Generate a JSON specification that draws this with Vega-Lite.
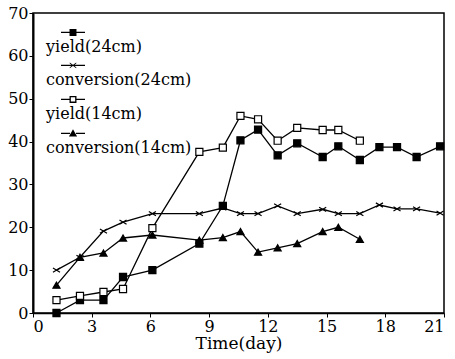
{
  "$schema": "https://vega.github.io/schema/vega-lite/v6.json",
  "width": 411,
  "height": 300,
  "autosize": "none",
  "padding": {"left": 33, "top": 13, "right": 11, "bottom": 46},
  "background": "white",
  "config": {
    "view": {"stroke": "black", "strokeWidth": 1.5},
    "font": "DejaVu Serif",
    "axis": {
      "grid": false,
      "domainColor": "black",
      "domainWidth": 1.5,
      "tickColor": "black",
      "tickSize": 4,
      "tickWidth": 1,
      "labelFont": "DejaVu Serif",
      "labelFontSize": 16,
      "labelColor": "black",
      "titleFont": "DejaVu Serif",
      "titleFontSize": 17,
      "titleFontWeight": "normal",
      "titleColor": "black"
    }
  },
  "data": {
    "values": [
      {"series": "yield(24cm)", "day": 1.2, "value": 0},
      {"series": "yield(24cm)", "day": 2.4, "value": 3},
      {"series": "yield(24cm)", "day": 3.6, "value": 3},
      {"series": "yield(24cm)", "day": 4.6, "value": 8.4},
      {"series": "yield(24cm)", "day": 6.1, "value": 10},
      {"series": "yield(24cm)", "day": 8.5, "value": 16.2},
      {"series": "yield(24cm)", "day": 9.7, "value": 25},
      {"series": "yield(24cm)", "day": 10.6, "value": 40.3},
      {"series": "yield(24cm)", "day": 11.5, "value": 42.8},
      {"series": "yield(24cm)", "day": 12.5, "value": 36.8},
      {"series": "yield(24cm)", "day": 13.5, "value": 39.6},
      {"series": "yield(24cm)", "day": 14.8, "value": 36.4},
      {"series": "yield(24cm)", "day": 15.6, "value": 38.9},
      {"series": "yield(24cm)", "day": 16.7, "value": 35.7},
      {"series": "yield(24cm)", "day": 17.7, "value": 38.7},
      {"series": "yield(24cm)", "day": 18.6, "value": 38.7},
      {"series": "yield(24cm)", "day": 19.6, "value": 36.4},
      {"series": "yield(24cm)", "day": 20.8, "value": 38.9},
      {"series": "conversion(24cm)", "day": 1.2, "value": 10},
      {"series": "conversion(24cm)", "day": 2.4, "value": 13},
      {"series": "conversion(24cm)", "day": 3.6, "value": 19.1},
      {"series": "conversion(24cm)", "day": 4.6, "value": 21.2},
      {"series": "conversion(24cm)", "day": 6.1, "value": 23.2},
      {"series": "conversion(24cm)", "day": 8.5, "value": 23.2},
      {"series": "conversion(24cm)", "day": 9.7, "value": 24.5},
      {"series": "conversion(24cm)", "day": 10.6, "value": 23.2},
      {"series": "conversion(24cm)", "day": 11.5, "value": 23.2},
      {"series": "conversion(24cm)", "day": 12.5, "value": 25},
      {"series": "conversion(24cm)", "day": 13.5, "value": 23.2},
      {"series": "conversion(24cm)", "day": 14.8, "value": 24.2},
      {"series": "conversion(24cm)", "day": 15.6, "value": 23.2},
      {"series": "conversion(24cm)", "day": 16.7, "value": 23.2},
      {"series": "conversion(24cm)", "day": 17.7, "value": 25.2},
      {"series": "conversion(24cm)", "day": 18.6, "value": 24.3},
      {"series": "conversion(24cm)", "day": 19.6, "value": 24.3},
      {"series": "conversion(24cm)", "day": 20.8, "value": 23.3},
      {"series": "yield(14cm)", "day": 1.2, "value": 3},
      {"series": "yield(14cm)", "day": 2.4, "value": 4},
      {"series": "yield(14cm)", "day": 3.6, "value": 4.9},
      {"series": "yield(14cm)", "day": 4.6, "value": 5.6},
      {"series": "yield(14cm)", "day": 6.1, "value": 19.8},
      {"series": "yield(14cm)", "day": 8.5, "value": 37.6},
      {"series": "yield(14cm)", "day": 9.7, "value": 38.6},
      {"series": "yield(14cm)", "day": 10.6, "value": 46},
      {"series": "yield(14cm)", "day": 11.5, "value": 45.2},
      {"series": "yield(14cm)", "day": 12.5, "value": 40.2},
      {"series": "yield(14cm)", "day": 13.5, "value": 43.2},
      {"series": "yield(14cm)", "day": 14.8, "value": 42.7},
      {"series": "yield(14cm)", "day": 15.6, "value": 42.7},
      {"series": "yield(14cm)", "day": 16.7, "value": 40.2},
      {"series": "conversion(14cm)", "day": 1.2, "value": 6.5},
      {"series": "conversion(14cm)", "day": 2.4, "value": 13},
      {"series": "conversion(14cm)", "day": 3.6, "value": 14},
      {"series": "conversion(14cm)", "day": 4.6, "value": 17.5},
      {"series": "conversion(14cm)", "day": 6.1, "value": 18.2},
      {"series": "conversion(14cm)", "day": 8.5, "value": 17},
      {"series": "conversion(14cm)", "day": 9.7, "value": 17.6},
      {"series": "conversion(14cm)", "day": 10.6, "value": 19},
      {"series": "conversion(14cm)", "day": 11.5, "value": 14.2},
      {"series": "conversion(14cm)", "day": 12.5, "value": 15.2},
      {"series": "conversion(14cm)", "day": 13.5, "value": 16.2},
      {"series": "conversion(14cm)", "day": 14.8, "value": 19},
      {"series": "conversion(14cm)", "day": 15.6, "value": 20},
      {"series": "conversion(14cm)", "day": 16.7, "value": 17.2}
    ]
  },
  "encoding": {
    "x": {
      "field": "day",
      "type": "quantitative",
      "title": "Time(day)",
      "scale": {"domain": [0, 21], "nice": false},
      "axis": {"values": [0, 3, 6, 9, 12, 15, 18, 21], "labelPadding": 1, "titlePadding": 1}
    },
    "y": {
      "field": "value",
      "type": "quantitative",
      "title": null,
      "scale": {"domain": [0, 70], "nice": false},
      "axis": {"values": [0, 10, 20, 30, 40, 50, 60, 70], "labelPadding": 1, "domainWidth": 2}
    }
  },
  "layer": [
    {
      "mark": {"type": "line", "color": "black", "strokeWidth": 1.3},
      "encoding": {"detail": {"field": "series"}}
    },
    {
      "mark": {"type": "point", "filled": true, "stroke": "black", "strokeWidth": 1.2, "opacity": 1, "size": 50},
      "encoding": {
        "shape": {
          "field": "series",
          "scale": {
            "domain": ["yield(24cm)", "conversion(24cm)", "yield(14cm)", "conversion(14cm)"],
            "range": ["square", "M-1,-0.6L1,0.6M-1,0.6L1,-0.6", "square", "triangle-up"]
          },
          "legend": null
        },
        "fill": {
          "field": "series",
          "scale": {
            "domain": ["yield(24cm)", "conversion(24cm)", "yield(14cm)", "conversion(14cm)"],
            "range": ["black", "black", "white", "black"]
          },
          "legend": null
        }
      }
    },
    {
      "mark": {"type": "point", "filled": true, "color": "black", "opacity": 0, "size": 576},
      "encoding": {
        "shape": {
          "field": "series",
          "scale": {
            "domain": ["yield(24cm)", "conversion(24cm)", "yield(14cm)", "conversion(14cm)"],
            "range": [
              "M-1,-0.61H-0.25V-0.49H-1ZM0.25,-0.61H1V-0.49H0.25ZM-0.29,-0.84H0.29V-0.26H-0.29Z",
              "M-1,-0.61H-0.25V-0.49H-1ZM0.25,-0.61H1V-0.49H0.25ZM-0.25,-0.61H0.25V-0.49H-0.25ZM-0.27,-0.79L0.27,-0.39L0.27,-0.31L-0.27,-0.71ZM-0.27,-0.39L0.27,-0.79L0.27,-0.71L-0.27,-0.31Z",
              "M-1,-0.61H-0.25V-0.49H-1ZM0.25,-0.61H1V-0.49H0.25ZM-0.29,-0.84H0.29V-0.26H-0.29ZM-0.18,-0.73V-0.37H0.18V-0.73Z",
              "M-1,-0.61H-0.25V-0.49H-1ZM0.25,-0.61H1V-0.49H0.25ZM0,-0.9L0.34,-0.3H-0.34Z"
            ]
          },
          "legend": {
            "orient": "none",
            "legendX": 27,
            "legendY": 13,
            "title": null,
            "padding": 0,
            "labelFont": "DejaVu Serif",
            "labelFontSize": 16,
            "labelColor": "black",
            "labelBaseline": "top",
            "labelOffset": -40,
            "labelLimit": 300,
            "rowPadding": 4,
            "symbolOpacity": 1,
            "symbolFillColor": "black",
            "symbolSize": 576
          }
        }
      }
    }
  ],
  "resolve": {"scale": {"shape": "independent", "fill": "independent"}}
}
